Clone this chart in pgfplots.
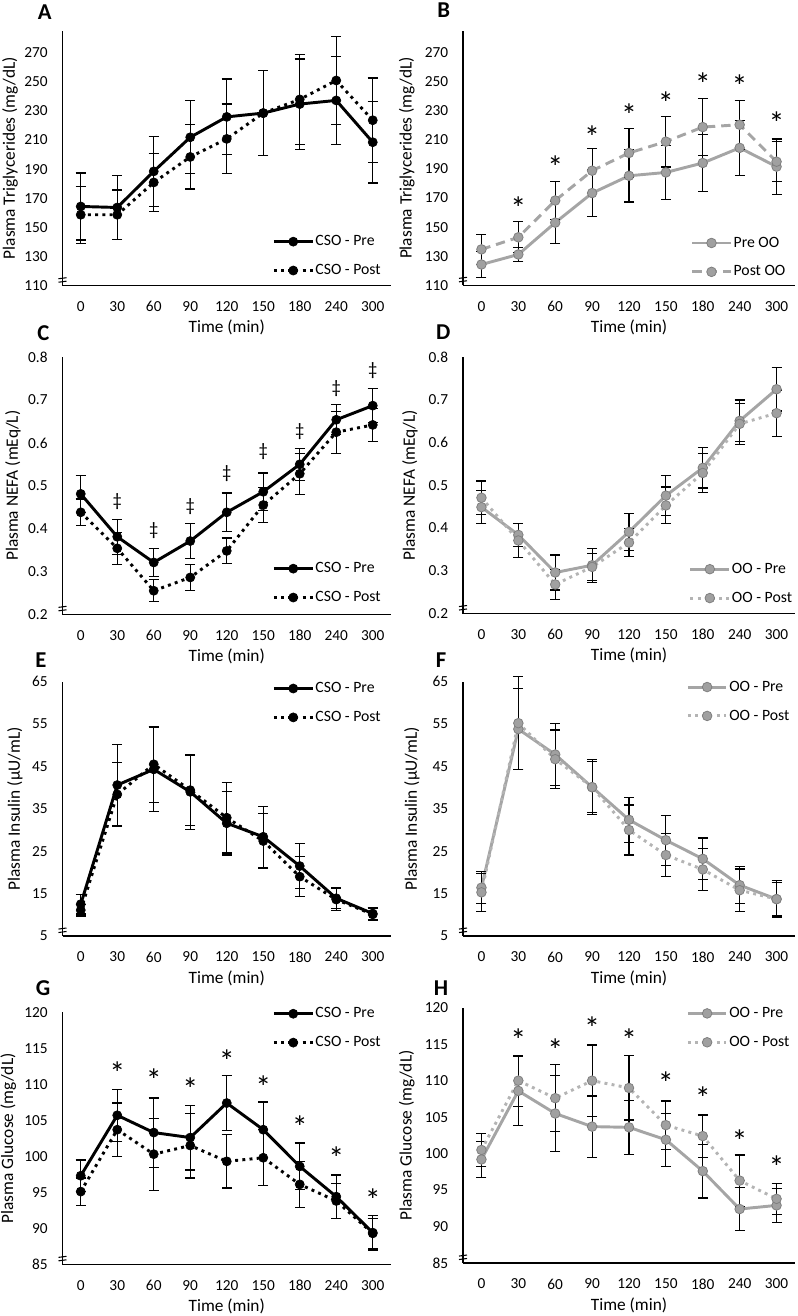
\documentclass[border=0pt]{standalone}
\usepackage{fontspec}
\setmainfont{Carlito}
\usepackage{pgfplots}
\pgfplotsset{compat=1.18}

\definecolor{ooline}{HTML}{A5A5A5}
\definecolor{oofill}{HTML}{A0A0A0}
\definecolor{ooedge}{HTML}{7F7F7F}
\definecolor{oopost}{HTML}{B4B4B4}

\newcommand{\ticksize}{\fontsize{11.5}{13}\selectfont}
\newcommand{\labsize}{\fontsize{13}{15}\selectfont}
\newcommand{\legsize}{\fontsize{11.8}{13}\selectfont}
\newcommand{\sigsize}{\fontsize{24}{24}\selectfont}
\newcommand{\dagsize}{\fontsize{14}{14}\selectfont}
\newcommand{\letsize}{\fontsize{17}{17}\selectfont\bfseries}

\pgfplotsset{
 panel/.style={
   scale only axis, anchor=south west, clip=false,
   xmin=-0.5, xmax=8.5,
   xtick={0,1,2,3,4,5,6,7,8},
   xticklabels={0,30,60,90,120,150,180,240,300},
   axis lines=left,
   axis line style={-, black, line width=0.9pt},
   major tick length=0pt,
   /pgf/number format/assume math mode=true,
   tick label style={font=\ticksize},
   xticklabel style={anchor=center, inner sep=0pt, yshift=-15.75pt},
   yticklabel style={anchor=east, inner sep=0pt, xshift=-11pt},
   xlabel={Time (min)},
   xlabel style={at={(axis description cs:0.5,0)}, anchor=center, yshift=-31.5pt, font=\labsize},
   ylabel style={anchor=center, font=\labsize},
   legend cell align=left,
   legend style={draw=none, fill=none, font=\legsize, inner sep=0pt, row sep=10.5pt,
      nodes={inner sep=1pt}},
   legend image code/.code={\draw[mark repeat=2, mark phase=2, ##1] plot coordinates {(0pt,0pt) (14.5pt,0pt) (29pt,0pt)};},
 },
 errb/.style={
   error bars/y dir=both, error bars/y explicit,
   error bars/error bar style={black, line width=0.9pt, solid},
   error bars/error mark options={rotate=90, black, mark size=3.75pt, line width=0.9pt, solid},
 },
 csopre/.style={black, line width=2.2pt, solid, mark=*, mark size=3.4pt,
   mark options={solid, fill=black, line width=0.5pt}, errb},
 csopost/.style={black, line width=2.2pt, dash pattern=on 2.2pt off 3.2pt, mark=*, mark size=3.4pt,
   mark options={solid, fill=black, line width=0.5pt}, errb},
 oopre/.style={ooline, line width=2.2pt, solid, mark=*, mark size=3.6pt,
   mark options={solid, fill=oofill, draw=ooedge, line width=0.6pt}, errb},
 oopostdash/.style={ooline, line width=2.2pt, dash pattern=on 7pt off 4.5pt, mark=*, mark size=3.6pt,
   mark options={solid, fill=oofill, draw=ooedge, line width=0.6pt}, errb},
 oopostdot/.style={oopost, line width=2.2pt, dash pattern=on 2.2pt off 3.2pt, mark=*, mark size=3.6pt,
   mark options={solid, fill=oofill, draw=ooedge, line width=0.6pt}, errb},
 sigast/.style={draw=none, forget plot, nodes near coords={*},
   every node near coord/.append style={anchor=base, inner sep=0pt, yshift=-12pt, font=\sigsize, black}},
 sigdag/.style={draw=none, forget plot, nodes near coords={‡},
   every node near coord/.append style={anchor=base, inner sep=0pt, yshift=-4.8pt, font=\dagsize, black}},
}

\newcommand{\axbreak}{%
  \draw[black, line width=0.8pt] (rel axis cs:0,0) ++(-3pt,2.6pt) -- ++(6pt,0.8pt);
  \draw[black, line width=0.8pt] (rel axis cs:0,0) ++(-3pt,5.2pt) -- ++(6pt,0.8pt);
}

\begin{document}
\begin{tikzpicture}
\useasboundingbox (0,0) rectangle (597.75pt,-987pt);

% ---------------- A ----------------
\begin{axis}[panel, at={(46.875pt,-214.275pt)}, width=246.375pt, height=191.175pt,
  ymin=110, ymax=285, ytick={110,130,...,270},
  ylabel={Plasma Triglycerides (mg/dL)},
  ylabel style={at={(axis description cs:-0.16,0.5)}},
  legend style={at={(axis description cs:1,0)}, anchor=south east, xshift=-6.5pt, yshift=5.6pt}]
\addplot[csopre] coordinates {(0,164.4) +- (0,23) (1,163.7) +- (0,22) (2,188.5) +- (0,24) (3,211.9) +- (0,25) (4,225.9) +- (0,26) (5,228.5) +- (0,29) (6,234.7) +- (0,31) (7,237.2) +- (0,30) (8,208.5) +- (0,28)};
\addlegendentry{CSO - Pre}
\addplot[csopost] coordinates {(0,158.7) +- (0,19.5) (1,158.7) +- (0,17) (2,180.9) +- (0,20) (3,198.4) +- (0,22) (4,210.8) +- (0,24) (5,228.5) +- (0,29) (6,237.9) +- (0,31) (7,250.9) +- (0,30) (8,223.6) +- (0,29)};
\addlegendentry{CSO - Post}
\axbreak
\end{axis}

% ---------------- B ----------------
\begin{axis}[panel, at={(347.25pt,-213.975pt)}, width=249pt, height=190.875pt,
  ymin=110, ymax=285, ytick={110,130,...,270},
  ylabel={Plasma Triglycerides (mg/dL)},
  ylabel style={at={(axis description cs:-0.169,0.5)}},
  legend style={at={(axis description cs:1,0)}, anchor=south east, xshift=-6pt, yshift=4.3pt}]
\addplot[oopre] coordinates {(0,124.3) +- (0,9.2) (1,131.2) +- (0,5) (2,153.1) +- (0,14.5) (3,173.4) +- (0,16) (4,185.3) +- (0,18) (5,187.6) +- (0,18.4) (6,194.1) +- (0,19.6) (7,204.5) +- (0,19) (8,191.6) +- (0,19)};
\addlegendentry{Pre OO}
\addplot[oopostdash] coordinates {(0,134.7) +- (0,10.4) (1,143) +- (0,10.6) (2,168.3) +- (0,13) (3,188.8) +- (0,15) (4,201) +- (0,16.8) (5,208.8) +- (0,17.5) (6,218.8) +- (0,19.6) (7,220.4) +- (0,16.8) (8,195) +- (0,13.8)};
\addlegendentry{Post OO}
\addplot[sigast] coordinates {(1,166.5) (2,194.6) (3,215.3) (4,230.3) (5,238.4) (6,251.5) (7,250.4) (8,225)};
\axbreak
\end{axis}

% ---------------- C ----------------
\begin{axis}[panel, at={(46.875pt,-460.725pt)}, width=246.375pt, height=192.825pt,
  ymin=0.2, ymax=0.8, ytick={0.2,0.3,0.4,0.5,0.6,0.7,0.8},
  yticklabel style={/pgf/number format/fixed, /pgf/number format/precision=1},
  ylabel={Plasma NEFA (mEq/L)},
  ylabel style={at={(axis description cs:-0.151,0.5)}},
  legend style={at={(axis description cs:1,0)}, anchor=south east, xshift=-6.5pt, yshift=6.8pt}]
\addplot[csopre] coordinates {(0,0.481) +- (0,0.043) (1,0.381) +- (0,0.041) (2,0.321) +- (0,0.033) (3,0.371) +- (0,0.04) (4,0.438) +- (0,0.045) (5,0.486) +- (0,0.044) (6,0.550) +- (0,0.037) (7,0.654) +- (0,0.035) (8,0.687) +- (0,0.04)};
\addlegendentry{CSO - Pre}
\addplot[csopost] coordinates {(0,0.438) +- (0,0.031) (1,0.354) +- (0,0.037) (2,0.255) +- (0,0.026) (3,0.286) +- (0,0.03) (4,0.348) +- (0,0.03) (5,0.455) +- (0,0.041) (6,0.528) +- (0,0.048) (7,0.625) +- (0,0.049) (8,0.642) +- (0,0.039)};
\addlegendentry{CSO - Post}
\addplot[sigdag] coordinates {(1,0.467) (2,0.399) (3,0.455) (4,0.533) (5,0.584) (6,0.631) (7,0.731) (8,0.773)};
\axbreak
\end{axis}

% ---------------- D ----------------
\begin{axis}[panel, at={(347.25pt,-460.125pt)}, width=249pt, height=192.225pt,
  ymin=0.2, ymax=0.8, ytick={0.2,0.3,0.4,0.5,0.6,0.7,0.8},
  yticklabel style={/pgf/number format/fixed, /pgf/number format/precision=1},
  ylabel={Plasma NEFA (mEq/L)},
  ylabel style={at={(axis description cs:-0.160,0.5)}},
  legend style={at={(axis description cs:1,0)}, anchor=south east, xshift=-1pt, yshift=5.8pt}]
\addplot[oopre] coordinates {(0,0.449) +- (0,0.039) (1,0.384) +- (0,0.027) (2,0.296) +- (0,0.041) (3,0.313) +- (0,0.04) (4,0.391) +- (0,0.043) (5,0.476) +- (0,0.047) (6,0.541) +- (0,0.047) (7,0.651) +- (0,0.049) (8,0.725) +- (0,0.051)};
\addlegendentry{OO - Pre}
\addplot[oopostdot] coordinates {(0,0.471) +- (0,0.039) (1,0.371) +- (0,0.039) (2,0.268) +- (0,0.035) (3,0.309) +- (0,0.032) (4,0.366) +- (0,0.033) (5,0.453) +- (0,0.043) (6,0.529) +- (0,0.045) (7,0.644) +- (0,0.048) (8,0.669) +- (0,0.054)};
\addlegendentry{OO - Post}
\axbreak
\end{axis}

% ---------------- E ----------------
\begin{axis}[panel, at={(46.875pt,-702pt)}, width=246.375pt, height=190.8pt,
  ymin=5, ymax=65, ytick={5,15,...,65},
  ylabel={Plasma Insulin (µU/mL)},
  ylabel style={at={(axis description cs:-0.145,0.5)}},
  legend style={at={(axis description cs:1,1)}, anchor=north east, xshift=-6.5pt, yshift=0.6pt}]
\addplot[csopre] coordinates {(0,12.5) +- (0,2.3) (1,40.6) +- (0,9.6) (2,44.3) +- (0,10) (3,39.0) +- (0,8.8) (4,31.6) +- (0,7.5) (5,28.4) +- (0,7.2) (6,21.5) +- (0,5.3) (7,13.9) +- (0,2.4) (8,10.3) +- (0,1.5)};
\addlegendentry{CSO - Pre}
\addplot[csopost] coordinates {(0,11.1) +- (0,1.4) (1,38.4) +- (0,7.5) (2,45.5) +- (0,9) (3,39.4) +- (0,8.3) (4,32.9) +- (0,8.3) (5,27.4) +- (0,6.5) (6,19.0) +- (0,4.7) (7,13.6) +- (0,2.6) (8,10.1) +- (0,1.5)};
\addlegendentry{CSO - Post}
\axbreak
\end{axis}

% ---------------- F ----------------
\begin{axis}[panel, at={(347.25pt,-702pt)}, width=249pt, height=190.8pt,
  ymin=5, ymax=65, ytick={5,15,...,65},
  ylabel={Plasma Insulin (µU/mL)},
  ylabel style={at={(axis description cs:-0.154,0.5)}},
  legend style={at={(axis description cs:1,1)}, anchor=north east, xshift=-3pt, yshift=1.7pt}]
\addplot[oopre] coordinates {(0,16.4) +- (0,3.8) (1,53.8) +- (0,9.5) (2,47.8) +- (0,7.3) (3,40.1) +- (0,6.5) (4,32.4) +- (0,5.3) (5,27.6) +- (0,5.9) (6,23.2) +- (0,4.9) (7,17.0) +- (0,4.3) (8,13.7) +- (0,4.4)};
\addlegendentry{OO - Pre}
\addplot[oopostdot] coordinates {(0,15.3) +- (0,4.5) (1,55.2) +- (0,11) (2,46.7) +- (0,6.9) (3,40.1) +- (0,6) (4,30.0) +- (0,5.9) (5,24.1) +- (0,5.1) (6,20.7) +- (0,4.9) (7,15.8) +- (0,5) (8,13.7) +- (0,4)};
\addlegendentry{OO - Post}
\axbreak
\end{axis}

% ---------------- G ----------------
\begin{axis}[panel, at={(46.875pt,-948.225pt)}, width=246.375pt, height=189pt,
  ymin=85, ymax=120, ytick={85,90,...,120},
  ylabel={Plasma Glucose (mg/dL)},
  ylabel style={at={(axis description cs:-0.165,0.5)}},
  legend style={at={(axis description cs:1,1)}, anchor=north east, xshift=-6.5pt, yshift=4.7pt}]
\addplot[csopre] coordinates {(0,97.3) +- (0,2.2) (1,105.7) +- (0,3.6) (2,103.3) +- (0,4.8) (3,102.6) +- (0,4.5) (4,107.4) +- (0,3.8) (5,103.7) +- (0,3.85) (6,98.6) +- (0,3.25) (7,94.4) +- (0,3.0) (8,89.4) +- (0,2.4)};
\addlegendentry{CSO - Pre}
\addplot[csopost] coordinates {(0,95.1) +- (0,1.9) (1,103.7) +- (0,3.7) (2,100.3) +- (0,5.0) (3,101.5) +- (0,4.5) (4,99.3) +- (0,3.7) (5,99.8) +- (0,3.9) (6,96.1) +- (0,3.2) (7,93.8) +- (0,2.4) (8,89.3) +- (0,2.1)};
\addlegendentry{CSO - Post}
\addplot[sigast] coordinates {(1,112.2) (2,111.2) (3,110.0) (4,113.9) (5,110.3) (6,104.7) (7,100.4) (8,94.5)};
\axbreak
\end{axis}

% ---------------- H ----------------
\begin{axis}[panel, at={(347.25pt,-947.25pt)}, width=249pt, height=191.475pt,
  ymin=85, ymax=120, ytick={85,90,...,120},
  ylabel={Plasma Glucose (mg/dL)},
  ylabel style={at={(axis description cs:-0.169,0.5)}},
  legend style={at={(axis description cs:1,1)}, anchor=north east, xshift=-3pt, yshift=1.5pt}]
\addplot[oopre] coordinates {(0,99.2) +- (0,2.5) (1,108.6) +- (0,4.7) (2,105.5) +- (0,5.2) (3,103.7) +- (0,4.2) (4,103.6) +- (0,3.7) (5,101.9) +- (0,3.65) (6,97.6) +- (0,3.7) (7,92.4) +- (0,2.9) (8,92.9) +- (0,2.3)};
\addlegendentry{OO - Pre}
\addplot[oopostdot] coordinates {(0,100.5) +- (0,2.3) (1,110.0) +- (0,3.5) (2,107.6) +- (0,4.6) (3,110.0) +- (0,4.9) (4,109.0) +- (0,4.4) (5,103.9) +- (0,3.3) (6,102.4) +- (0,2.9) (7,96.3) +- (0,3.5) (8,93.8) +- (0,2.1)};
\addlegendentry{OO - Post}
\addplot[sigast] coordinates {(1,116.2) (2,114.8) (3,117.9) (4,116.2) (5,110.3) (6,108.2) (7,102.4) (8,98.8)};
\axbreak
\end{axis}

% panel letters
\node[font=\letsize] at (33.5pt,-8.8pt) {A};
\node[font=\letsize] at (332.8pt,-7.5pt) {B};
\node[font=\letsize] at (32.5pt,-249.75pt) {C};
\node[font=\letsize] at (332.5pt,-249pt) {D};
\node[font=\letsize] at (30.75pt,-495pt) {E};
\node[font=\letsize] at (330.75pt,-495pt) {F};
\node[font=\letsize] at (32.25pt,-741pt) {G};
\node[font=\letsize] at (330.75pt,-741pt) {H};
\end{tikzpicture}
\end{document}
